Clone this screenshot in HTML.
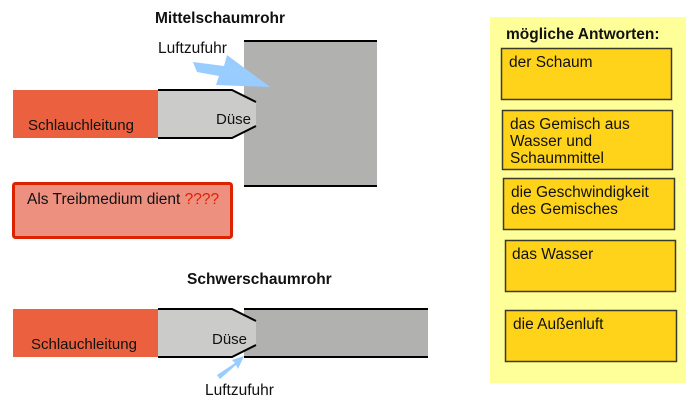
<!DOCTYPE html>
<html><head><meta charset="utf-8"><style>
body{margin:0;background:#fff;width:700px;height:412px;overflow:hidden}
svg text{font-family:"Liberation Sans",sans-serif;fill:#111}
</style></head><body>
<svg width="700" height="412" viewBox="0 0 700 412" xmlns="http://www.w3.org/2000/svg">
<!-- Top diagram -->
<text x="155" y="23" font-size="15.5" font-weight="bold">Mittelschaumrohr</text>
<rect x="244" y="41" width="133" height="145" fill="#b1b2b0"/>
<line x1="244" y1="41" x2="377" y2="41" stroke="#000" stroke-width="2"/>
<line x1="244" y1="186" x2="377" y2="186" stroke="#000" stroke-width="2"/>
<rect x="13" y="90" width="145" height="48" fill="#eb6140"/>
<polygon points="158,90 232,90 256,102 256,126 232,138 158,138" fill="#cbccca"/>
<polyline points="158,90 232,90 256,102" fill="none" stroke="#000" stroke-width="2"/>
<polyline points="158,138 232,138 256,126" fill="none" stroke="#000" stroke-width="2"/>
<polygon points="193,62 224,66 227,55 270,87 216,85 219,76 197,72" fill="#99ccff"/>
<text x="158" y="53" font-size="15.5">Luftzufuhr</text>
<text x="28" y="130" font-size="15">Schlauchleitung</text>
<text x="216" y="124" font-size="15">Düse</text>
<rect x="13.5" y="183.5" width="218" height="54" fill="#ee9080" stroke="#dd2200" stroke-width="3" rx="2"/>
<text x="27" y="204" font-size="15.5">Als Treibmedium dient <tspan fill="#e02000">????</tspan></text>
<!-- Bottom diagram -->
<text x="187" y="284" font-size="15.5" font-weight="bold">Schwerschaumrohr</text>
<rect x="244" y="309" width="184" height="48" fill="#b1b2b0"/>
<rect x="13" y="309" width="145" height="48" fill="#eb6140"/>
<polygon points="158,309 232,309 256,321 256,345 232,357 158,357" fill="#cbccca"/>
<polyline points="158,309 232,309 256,321" fill="none" stroke="#000" stroke-width="2"/>
<polyline points="158,357 232,357 256,345" fill="none" stroke="#000" stroke-width="2"/>
<line x1="244" y1="309" x2="428" y2="309" stroke="#000" stroke-width="2"/>
<line x1="244" y1="357" x2="428" y2="357" stroke="#000" stroke-width="2"/>
<polygon points="217,375 220,379 236,365 238,369 244,356 232,360 235,363" fill="#99ccff"/>
<text x="31" y="349" font-size="15">Schlauchleitung</text>
<text x="212" y="344" font-size="15">Düse</text>
<text x="205" y="395" font-size="15.5">Luftzufuhr</text>
<!-- Answers panel -->
<rect x="490" y="17" width="196" height="366" fill="#ffff99"/>
<text x="506" y="39" font-size="15.5" font-weight="bold">mögliche Antworten:</text>
<g fill="#ffd31a" stroke="#3a3a2a" stroke-width="1.5">
<rect x="501.5" y="48.5" width="170" height="51"/>
<rect x="502.5" y="110.5" width="170" height="59"/>
<rect x="503.5" y="178.5" width="171" height="51"/>
<rect x="505.5" y="240.5" width="170" height="51"/>
<rect x="505.5" y="310.5" width="171" height="51"/>
</g>
<g font-size="15.5">
<text x="509" y="67">der Schaum</text>
<text x="510" y="129">das Gemisch aus</text>
<text x="510" y="146">Wasser und</text>
<text x="510" y="163">Schaummittel</text>
<text x="511" y="197">die Geschwindigkeit</text>
<text x="511" y="214">des Gemisches</text>
<text x="512" y="259">das Wasser</text>
<text x="513" y="329">die Außenluft</text>
</g>
</svg>
</body></html>
